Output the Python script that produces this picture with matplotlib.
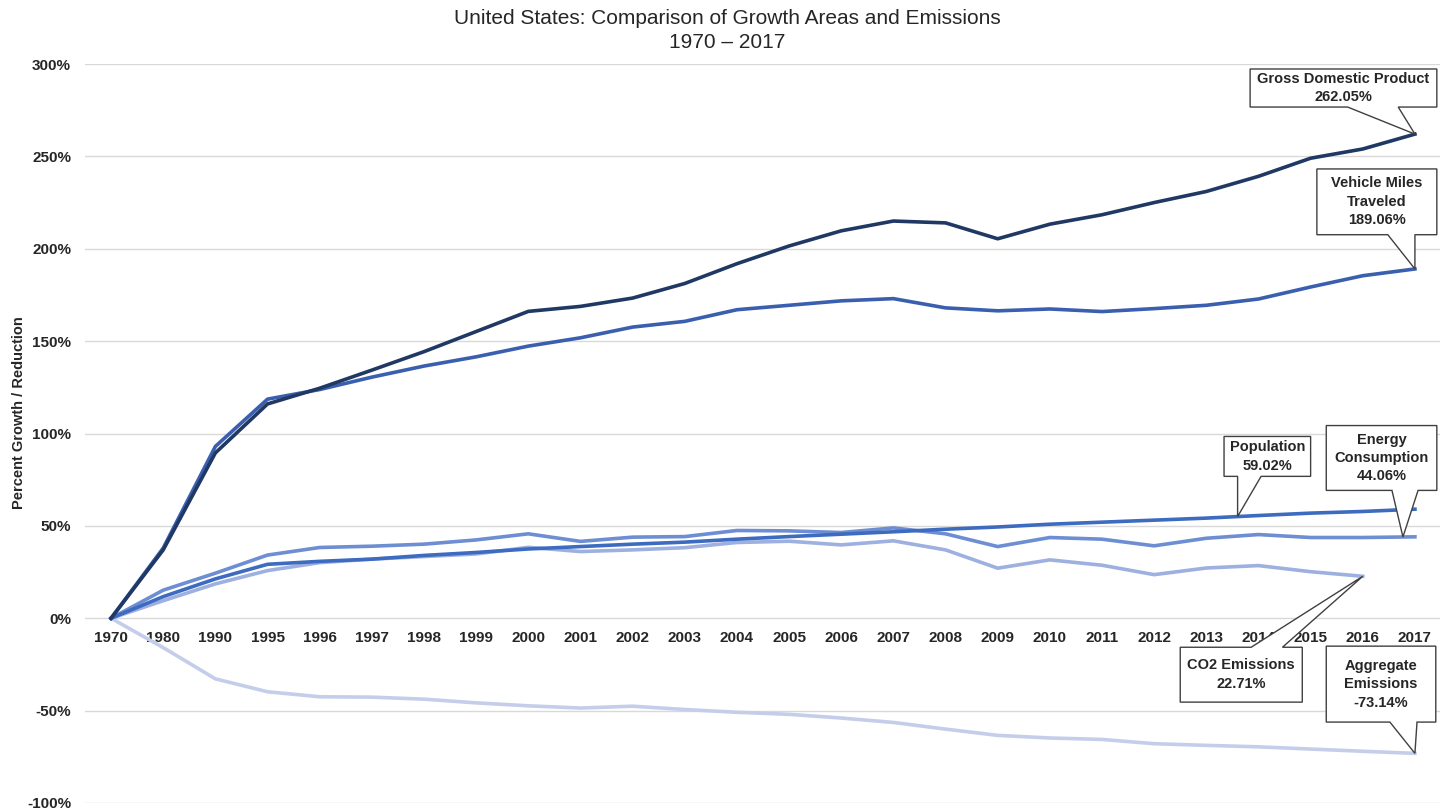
import numpy as np
import matplotlib
matplotlib.use("Agg")
import matplotlib.pyplot as plt
from matplotlib.patches import Polygon
from matplotlib.ticker import FuncFormatter

plt.rcParams['font.family'] = ['Liberation Sans', 'DejaVu Sans']

years = ['1970', '1980', '1990', '1995', '1996', '1997', '1998', '1999', '2000',
         '2001', '2002', '2003', '2004', '2005', '2006', '2007', '2008', '2009',
         '2010', '2011', '2012', '2013', '2014', '2015', '2016', '2017']

# percent change since 1970
gdp = [0, 37.0, 89.5, 116.0, 124.5, 134.3, 144.3, 155.2, 166.1, 168.8, 173.3,
       181.2, 191.9, 201.5, 209.7, 215.0, 214.0, 205.4, 213.3, 218.4, 225.0,
       231.0, 239.2, 249.0, 254.0, 262.05]
vmt = [0, 38.0, 93.0, 118.6, 123.8, 130.5, 136.5, 141.5, 147.3, 151.8, 157.6,
       160.7, 167.0, 169.4, 171.8, 173.0, 168.0, 166.4, 167.4, 166.0, 167.6,
       169.4, 172.8, 179.3, 185.4, 189.06]
population = [0, 11.7, 21.3, 29.2, 30.8, 32.0, 34.0, 35.6, 37.5, 38.8, 40.1,
              41.2, 42.8, 44.2, 45.5, 46.8, 48.2, 49.4, 50.9, 52.0, 53.1,
              54.2, 55.6, 56.9, 57.8, 59.02]
energy = [0, 15.2, 24.4, 34.2, 38.3, 39.0, 40.1, 42.4, 45.7, 41.6, 43.9, 44.2,
          47.5, 47.3, 46.4, 48.9, 45.7, 38.8, 43.7, 42.8, 39.2, 43.3, 45.3,
          43.7, 43.7, 44.06]
co2 = [0, 9.5, 18.6, 25.8, 30.1, 32.0, 33.4, 34.8, 38.4, 36.1, 37.0, 38.2,
       41.0, 41.7, 39.7, 41.9, 37.0, 27.1, 31.6, 28.7, 23.6, 27.2, 28.5, 25.2,
       22.71, np.nan]
aggregate = [0, -15.9, -32.8, -39.8, -42.5, -42.7, -43.8, -45.8, -47.4, -48.6,
             -47.6, -49.4, -50.9, -52.0, -54.0, -56.4, -60.0, -63.4, -64.8,
             -65.6, -67.9, -68.8, -69.6, -70.8, -72.0, -73.14]

names = ['Gross Domestic Product', 'Vehicle Miles\nTraveled', 'Population',
         'Energy\nConsumption', 'CO2 Emissions', 'Aggregate\nEmissions']
colors = ['#203864', '#3A5FAF', '#3C6BC0', '#6D8ED2', '#9DB0E0', '#C4CEEA']

x = np.arange(len(years))
series = [gdp, vmt, population, energy, co2, aggregate]

fig = plt.figure(figsize=(14.4, 8.11), dpi=100)
ax = fig.add_axes([85 / 1440, 8 / 811, 1356 / 1440, 739 / 811])

for vals, c in zip(series[::-1], colors[::-1]):
    ax.plot(x, vals, color=c, lw=2.6, solid_joinstyle='round', zorder=3)

ax.set_xlim(-0.5, len(years) - 0.5)
ax.set_ylim(-100, 300)
ax.set_yticks(np.arange(-100, 301, 50))
ax.yaxis.set_major_formatter(FuncFormatter(lambda v, p: '%d%%' % v))
ax.set_xticks(x)
ax.set_xticklabels(years)
ax.grid(axis='y', color='#D9D9D9', lw=1)
ax.set_axisbelow(True)
for s in ['top', 'right', 'left']:
    ax.spines[s].set_visible(False)
ax.spines['bottom'].set_position(('data', 0))
ax.spines['bottom'].set_visible(False)
ax.tick_params(axis='both', length=0, labelsize=11, labelcolor='#262626')
ax.tick_params(axis='x', pad=9)
ax.tick_params(axis='y', pad=10)
for lab in ax.get_xticklabels() + ax.get_yticklabels():
    lab.set_fontweight('bold')


# callout box with a pointer running to a spot on a line
def callout(text, box, tail, tip, up=False):
    l, r, t, b = box
    t1, t2 = tail
    if up:
        pts = [(l, b), (l, t), (t1, t), tip, (t2, t), (r, t), (r, b)]
    else:
        pts = [(l, t), (r, t), (r, b), (t2, b), tip, (t1, b), (l, b)]
    ax.add_patch(Polygon(pts, closed=True, fc='white', ec='#404040', lw=1,
                         zorder=6))
    ax.text((l + r) / 2, (t + b) / 2, text, ha='center', va='center',
            fontsize=10.5, fontweight='bold', color='#262626',
            linespacing=1.4, zorder=7)


last = len(years) - 1
callout('%s\n%.2f%%' % (names[0], gdp[-1]), (21.84, 25.42, 297.3, 276.7),
        (23.71, 24.68), (x[last], gdp[-1]))
callout('%s\n%.2f%%' % (names[1], vmt[-1]), (23.12, 25.42, 243.2, 207.6),
        (24.48, 25.0), (x[last], vmt[-1]))
px = 21.6
callout('%s\n%.2f%%' % (names[2], population[-1]), (21.34, 23.0, 98.4, 76.8),
        (21.6, 22.05), (px, np.interp(px, x, population)))
ex = 24.77
callout('%s\n%.2f%%' % (names[3], energy[-1]), (23.3, 25.42, 104.3, 69.2),
        (24.56, 25.06), (ex, np.interp(ex, x, energy)))
callout('%s\n%.2f%%' % (names[4], co2[-2]), (20.5, 22.84, -15.7, -45.4),
        (21.86, 22.46), (x[last - 1], co2[-2]), up=True)
callout('%s\n%.2f%%' % (names[5], aggregate[-1]), (23.3, 25.4, -15.1, -56.2),
        (24.52, 25.04), (x[last], aggregate[-1]))

fig.text(727 / 1440, 1 - 19 / 811, 'United States: Comparison of Growth Areas and Emissions',
         ha='center', va='center', fontsize=15, color='#262626')
fig.text(727 / 1440, 1 - 43 / 811, '1970 \u2013 2017', ha='center', va='center',
         fontsize=15, color='#262626')
fig.text(19 / 1440, 1 - 413 / 811, 'Percent Growth / Reduction', rotation=90,
         ha='center', va='center', fontsize=10.5, fontweight='bold',
         color='#262626')

fig.savefig('out.png', dpi=100)
